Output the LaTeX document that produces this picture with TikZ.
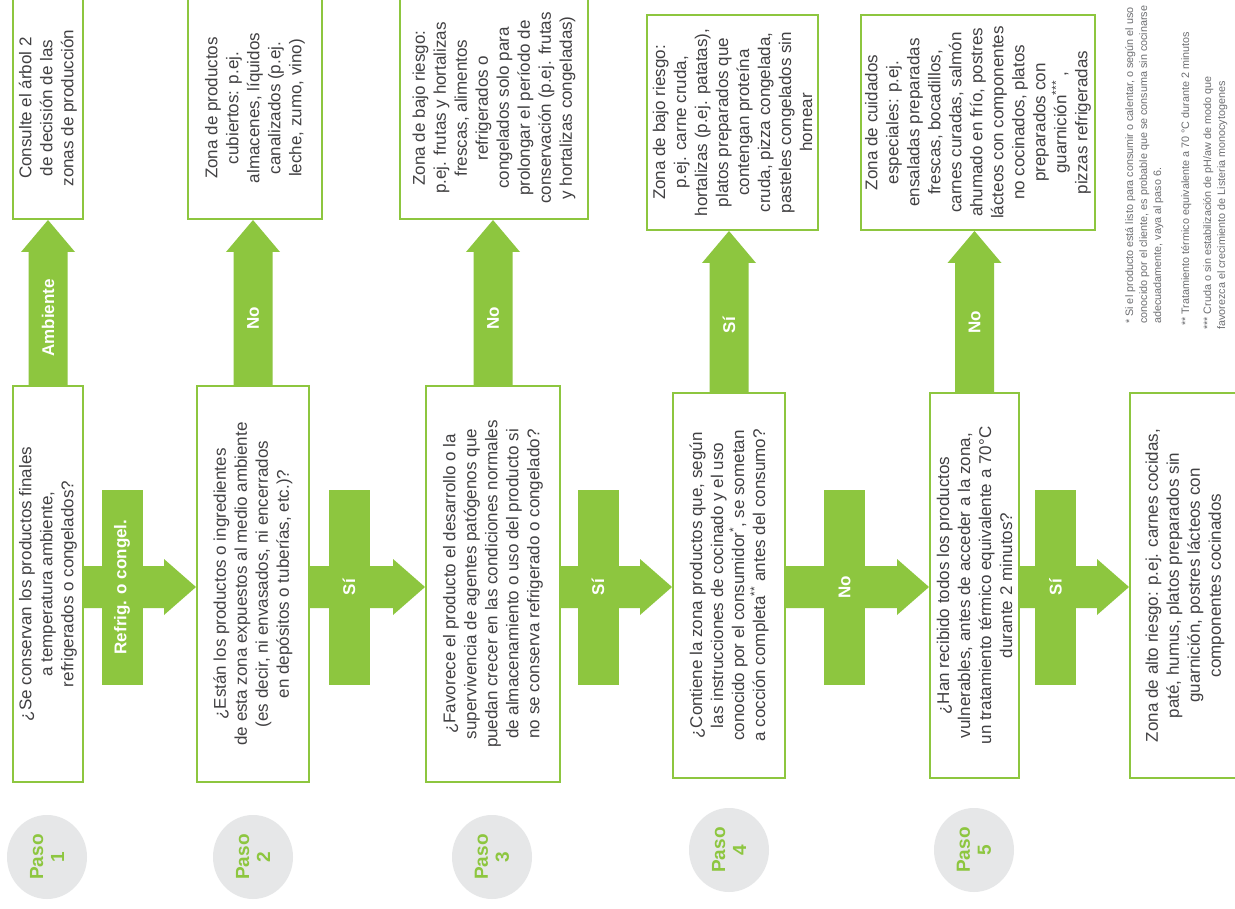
\documentclass[tikz,border=0pt]{standalone}
\usepackage{fontspec}
\setmainfont{Liberation Sans}
\usetikzlibrary{calc,shapes.geometric}
\definecolor{gr}{HTML}{8DC63F}
\definecolor{tx}{HTML}{414042}
\definecolor{cg}{HTML}{E6E7E8}
\definecolor{fn}{HTML}{6D6E71}
\newcommand{\harr}[2]{\fill[arr] let \p1=(#1.south), \p2=(#2.north) in (\x1,-566pt) -- (\x2-32pt,-566pt) -- (\x2-32pt,-559pt) -- (\x2,-587pt) -- (\x2-32pt,-615pt) -- (\x2-32pt,-608pt) -- (\x1,-608pt) -- cycle;}
\newcommand{\varr}[2]{\fill[arr] let \p1=(#1.east), \p2=(#2.west) in (\x1-19.5pt,\y1) -- (\x1-19.5pt,\y2-32pt) -- (\x1-27pt,\y2-32pt) -- (\x1,\y2) -- (\x1+27pt,\y2-32pt) -- (\x1+19.5pt,\y2-32pt) -- (\x1+19.5pt,\y1) -- cycle;}
\begin{document}
\begin{tikzpicture}[x=1pt,y=-1pt,
 zbox/.style={draw=gr, line width=2pt, rotate=90, align=center, inner sep=2pt, text=tx, fill=white, font=\fontsize{17}{21}\selectfont},
 arr/.style={fill=gr},
 lblrect/.style={fill=gr, rotate=90, minimum width=195pt, minimum height=41pt, inner sep=0pt, text=white, font=\bfseries\fontsize{17}{20}\selectfont},
 vlab/.style={rotate=90, text=white, inner sep=0pt, font=\bfseries\fontsize{17}{20}\selectfont},
 paso/.style={ellipse, fill=cg, rotate=90, minimum width=84pt, minimum height=80pt, inner sep=0pt, align=center, text=gr, font=\bfseries\fontsize{19}{21}\selectfont},
 fnote/.style={rotate=90, anchor=north west, align=left, inner sep=0pt, text=fn, font=\fontsize{10.8}{14}\selectfont}]
\clip (0,0) rectangle (1235,909);
\fill[white] (0,0) rectangle (1235,909);

% question boxes
\node[zbox, minimum width=396pt, minimum height=70pt] (q1) at (48,584) {¿Se conservan los productos finales\\a temperatura ambiente,\\refrigerados o congelados?};
\node[zbox, minimum width=396pt, minimum height=112pt] (q2) at (253,584) {¿Están los productos o ingredientes\\de esta zona expuestos al medio ambiente\\(es decir, ni envasados, ni encerrados\\en depósitos o tuberías, etc.)?};
\node[zbox, minimum width=396pt, minimum height=134pt] (q3) at (493,584) {¿Favorece el producto el desarrollo o la\\supervivencia de agentes patógenos que\\puedan crecer en las condiciones normales\\de almacenamiento o uso del producto si\\no se conserva refrigerado o congelado?};
\node[zbox, minimum width=385pt, minimum height=112pt] (q4) at (729,585.5) {¿Contiene la zona productos que, según\\las instrucciones de cocinado y el uso\\conocido por el consumidor\textsuperscript{*}, se sometan\\a cocción completa\textsuperscript{**} antes del consumo?};
\node[zbox, minimum width=385pt, minimum height=89pt] (q5) at (974.5,585.5) {¿Han recibido todos los productos\\vulnerables, antes de acceder a la zona,\\un tratamiento térmico equivalente a 70°C\\durante 2 minutos?};
\node[zbox, minimum width=385pt, minimum height=110pt] (q6) at (1185,585.5) {Zona de alto riesgo: p.ej. carnes cocidas,\\paté, humus, platos preparados sin\\guarnición, postres lácteos con\\componentes cocinados};

% outcome boxes
\node[zbox, minimum width=222pt, minimum height=70pt] (t1) at (48,108) {Consulte el árbol 2\\de decisión de las\\zonas de producción};
\node[zbox, minimum width=222pt, minimum height=134pt] (t2) at (255,108) {Zona de productos\\cubiertos: p.ej.\\almacenes, líquidos\\canalizados (p.ej.\\leche, zumo, vino)};
\node[zbox, minimum width=222pt, minimum height=188pt] (t3) at (494,108) {Zona de bajo riesgo:\\p.ej. frutas y hortalizas\\frescas, alimentos\\refrigerados o\\congelados solo para\\prolongar el período de\\conservación (p.ej. frutas\\y hortalizas congeladas)};
\node[zbox, minimum width=215pt, minimum height=171pt] (t4) at (732.5,122.5) {Zona de bajo riesgo:\\p.ej. carne cruda,\\hortalizas (p.ej. patatas),\\platos preparados que\\contengan proteína\\cruda, pizza congelada,\\pasteles congelados sin\\hornear};
\node[zbox, minimum width=215pt, minimum height=234pt] (t5) at (978,122.5) {Zona de cuidados\\especiales: p.ej.\\ensaladas preparadas\\frescas, bocadillos,\\carnes curadas, salmón\\ahumado en frío, postres\\lácteos con componentes\\no cocinados, platos\\preparados con\\guarnición\textsuperscript{***} ,\\pizzas refrigeradas};

% horizontal arrows
\harr{q1}{q2}
\harr{q2}{q3}
\harr{q3}{q4}
\harr{q4}{q5}
\harr{q5}{q6}
\node[lblrect] (r1) at (122,587) {Refrig. o congel.};
\node[lblrect] (r2) at (349,587) {Sí};
\node[lblrect] (r3) at (598,587) {Sí};
\node[lblrect] (r4) at (844.5,587) {No};
\node[lblrect] (r5) at (1055.5,587) {Sí};

% vertical arrows
\varr{q1}{t1}
\varr{q2}{t2}
\varr{q3}{t3}
\varr{q4}{t4}
\varr{q5}{t5}
\node[vlab] (v1) at (48,318) {Ambiente};
\node[vlab] (v2) at (253,318) {No};
\node[vlab] (v3) at (493,318) {No};
\node[vlab] (v4) at (729,325) {Sí};
\node[vlab] (v5) at (974.5,322) {No};

% step markers
\node[paso] (p1) at (47,857) {Paso\\1};
\node[paso] (p2) at (253,857) {Paso\\2};
\node[paso] (p3) at (492,857) {Paso\\3};
\node[paso] (p4) at (729,850) {Paso\\4};
\node[paso] (p5) at (974,850) {Paso\\5};

% footnotes
\node[fnote] (f1) at (1125,324) {* Si el producto está listo para consumir o calentar, o según el uso\\conocido por el cliente, es probable que se consuma sin cocinarse\\adecuadamente, vaya al paso 6.};
\node[fnote] (f2) at (1181,326) {** Tratamiento térmico equivalente a 70 °C durante 2 minutos};
\node[fnote] (f3) at (1203,330) {*** Cruda o sin estabilización de pH/aw de modo que\\favorezca el crecimiento de Listeria monocytogenes};
\end{tikzpicture}
\end{document}
